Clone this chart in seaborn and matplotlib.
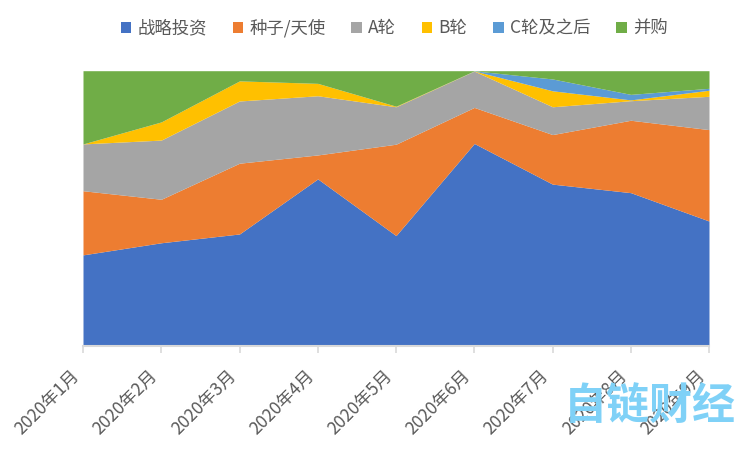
import matplotlib
matplotlib.use("Agg")
import matplotlib.pyplot as plt
from matplotlib.patches import Patch
import seaborn as sns
import numpy as np

months = ["2020年1月", "2020年2月", "2020年3月", "2020年4月", "2020年5月",
          "2020年6月", "2020年7月", "2020年8月", "2020年9月"]
series_names = ["战略投资", "种子/天使", "A轮", "B轮", "C轮及之后", "并购"]
strategic = [33.1, 37.5, 40.7, 60.7, 40.1, 73.6, 58.8, 55.7, 45.4]
seed = [23.3, 15.8, 25.7, 8.7, 33.2, 13.1, 18.0, 26.3, 33.2]
round_a = [17.0, 21.5, 22.6, 21.5, 13.6, 13.2, 10.1, 7.1, 12.1]
round_b = [0.0, 6.6, 7.3, 4.5, 0.2, 0.05, 5.8, 0.3, 2.2]
round_c = [0.0, 0.0, 0.0, 0.0, 0.0, 0.05, 4.3, 2.0, 0.7]
mna = [26.6, 18.6, 3.7, 4.6, 12.9, 0.05, 3.0, 8.6, 6.4]
colors = ["#4472C4", "#ED7D31", "#A5A5A5", "#FFC000", "#5B9BD5", "#70AD47"]

sns.set_theme(style="white")
plt.rcParams['font.family'] = ['Noto Sans CJK SC', 'DejaVu Sans']

fig = plt.figure(figsize=(7.5, 4.5), dpi=100)
ax = fig.add_axes([83/750, 1-346/450, (709-83)/750, (346-70.7)/450])

data = np.array([strategic, seed, round_a, round_b, round_c, mna], dtype=float)
data = data / data.sum(axis=0) * 100
x = np.arange(len(months))
ax.stackplot(x, data, colors=colors, linewidth=0)

ax.set_xlim(0, len(months) - 1)
ax.set_ylim(0, 100)
ax.set_yticks([])
for s in ["top", "right", "left"]:
    ax.spines[s].set_visible(False)
ax.spines["bottom"].set_color("#D9D9D9")
ax.spines["bottom"].set_linewidth(1.5)
ax.set_xticks(x)
ax.set_xticklabels(months, rotation=45, ha="right", va="top",
                   fontsize=12.5, color="#595959")
ax.tick_params(axis="x", direction="out", length=5, width=1.2,
               color="#D9D9D9", pad=10, bottom=True)

handles = [Patch(facecolor=c, edgecolor="none") for c in colors]
fig.legend(handles, series_names, loc="center", bbox_to_anchor=(394/750, 1-28/450),
           ncol=6, frameon=False, fontsize=12.5, handlelength=0.6, handleheight=0.6,
           columnspacing=1.5, handletextpad=0.35, labelcolor="#595959")

ax.text(650/750, 1-407/450, "自链财经", ha="center", va="center", fontsize=31,
        fontweight="bold", color="#7FD1F7", transform=fig.transFigure,
        clip_on=False, zorder=1, family=['Noto Sans CJK SC', 'DejaVu Sans'])

fig.savefig("out.png", dpi=100)
